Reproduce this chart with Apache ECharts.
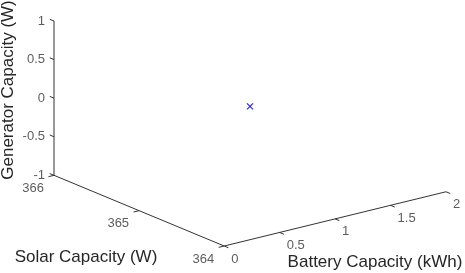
<!DOCTYPE html>
<html>
<head>
<meta charset="utf-8">
<script src="https://cdn.jsdelivr.net/npm/echarts@6/dist/echarts.min.js"></script>
<style>
html, body { margin: 0; padding: 0; background: #fff; }
#main { width: 465px; height: 273px; }
</style>
</head>
<body>
<div id="main"></div>
<script>
// 坐标轴刻度
var batteryTicks = [0, 0.5, 1, 1.5, 2];
var solarTicks = [364, 365, 366];
var generatorTicks = [-1, -0.5, 0, 0.5, 1];
// 数据点
var batteryValues = [1];
var solarValues = [365];
var generatorValues = [0];

var bRange = [0, 2], sRange = [364, 366], gRange = [-1, 1];
// matlab 默认视角 view(-37.5, 30)
var az = -37.5 * Math.PI / 180, el = 30 * Math.PI / 180;
var tickLen = 0.025;
var font = 'Liberation Sans, Arial, sans-serif';
var axisColor = '#333';

function projN(u, v, w) {
    return [
        u * Math.cos(az) + v * Math.sin(az),
        -Math.sin(el) * (Math.sin(az) * u - Math.cos(az) * v) + Math.cos(el) * w
    ];
}
function norm(b, s, g) {
    return [
        (b - bRange[0]) / (bRange[1] - bRange[0]),
        (s - sRange[0]) / (sRange[1] - sRange[0]),
        (g - gRange[0]) / (gRange[1] - gRange[0])
    ];
}
function proj(b, s, g) {
    var n = norm(b, s, g);
    return projN(n[0], n[1], n[2]);
}

// 三根坐标轴
var axisLines = [
    [proj(bRange[0], sRange[0], gRange[0]), proj(bRange[1], sRange[0], gRange[0])],
    [proj(bRange[0], sRange[0], gRange[0]), proj(bRange[0], sRange[1], gRange[0])],
    [proj(bRange[0], sRange[1], gRange[0]), proj(bRange[0], sRange[1], gRange[1])]
];
var hs = [], ps = [];
axisLines.forEach(function(l) {
    l.forEach(function(p) { hs.push(p[0]); ps.push(p[1]); });
});
var hMin = Math.min.apply(null, hs), hMax = Math.max.apply(null, hs);
var pMin = Math.min.apply(null, ps), pMax = Math.max.apply(null, ps);

// 刻度线
var tickSegs = [];
var batteryLabels = [], solarLabels = [], generatorLabels = [];
batteryTicks.forEach(function(b) {
    var n = norm(b, sRange[0], gRange[0]);
    var a = projN(n[0], n[1], n[2]), c = projN(n[0], n[1] - tickLen, n[2]);
    tickSegs.push([a[0], a[1], c[0], c[1]]);
    batteryLabels.push({ value: a, label: { formatter: String(b) } });
});
solarTicks.forEach(function(s) {
    var n = norm(bRange[0], s, gRange[0]);
    var a = projN(n[0], n[1], n[2]), c = projN(n[0] - tickLen, n[1], n[2]);
    tickSegs.push([a[0], a[1], c[0], c[1]]);
    solarLabels.push({ value: a, label: { formatter: String(s) } });
});
generatorTicks.forEach(function(g) {
    var n = norm(bRange[0], sRange[1], g);
    var a = projN(n[0], n[1], n[2]), c = projN(n[0], n[1] + tickLen, n[2]);
    tickSegs.push([a[0], a[1], c[0], c[1]]);
    generatorLabels.push({ value: a, label: { formatter: String(g) } });
});

var points = [];
for (var i = 0; i < batteryValues.length; i++) {
    points.push(proj(batteryValues[i], solarValues[i], generatorValues[i]));
}

function labelSeries(data, pos, align) {
    return {
        type: 'scatter',
        data: data,
        symbolSize: 0,
        silent: true,
        label: {
            show: true,
            position: pos,
            align: align,
            verticalAlign: 'middle',
            fontFamily: font,
            fontSize: 13,
            color: '#333'
        }
    };
}

var chart = echarts.init(document.getElementById('main'));
var series = [];
axisLines.forEach(function(l) {
    series.push({
        type: 'line',
        data: l,
        symbol: 'none',
        silent: true,
        lineStyle: { color: axisColor, width: 1 }
    });
});
series.push({
    type: 'custom',
    data: tickSegs,
    silent: true,
    renderItem: function(params, api) {
        var p1 = api.coord([api.value(0), api.value(1)]);
        var p2 = api.coord([api.value(2), api.value(3)]);
        return {
            type: 'line',
            shape: { x1: p1[0], y1: p1[1], x2: p2[0], y2: p2[1] },
            style: { stroke: axisColor, lineWidth: 1 }
        };
    }
});
series.push(labelSeries(batteryLabels, [7, 13], 'left'));
series.push(labelSeries(solarLabels, [-10, 13], 'right'));
series.push(labelSeries(generatorLabels, [-9, 0], 'right'));
series.push({
    type: 'custom',
    data: points,
    renderItem: function(params, api) {
        var c = api.coord([api.value(0), api.value(1)]);
        var r = 3;
        return {
            type: 'group',
            children: [
                { type: 'line', shape: { x1: c[0] - r, y1: c[1] - r, x2: c[0] + r, y2: c[1] + r }, style: { stroke: '#2a2ae0', lineWidth: 1.2 } },
                { type: 'line', shape: { x1: c[0] - r, y1: c[1] + r, x2: c[0] + r, y2: c[1] - r }, style: { stroke: '#2a2ae0', lineWidth: 1.2 } }
            ]
        };
    }
});

chart.setOption({
    animation: false,
    backgroundColor: '#fff',
    grid: { left: 54, right: 19, top: 21, bottom: 27 },
    xAxis: { type: 'value', min: hMin, max: hMax, show: false },
    yAxis: { type: 'value', min: pMin, max: pMax, show: false },
    graphic: [
        {
            type: 'text', x: 8, y: 90, rotation: Math.PI / 2,
            style: { text: 'Generator Capacity (W)', fontFamily: font, fontSize: 17, fill: '#262626', align: 'center', verticalAlign: 'middle' }
        },
        {
            type: 'text', x: 86, y: 257,
            style: { text: 'Solar Capacity (W)', fontFamily: font, fontSize: 17, fill: '#262626', align: 'center', verticalAlign: 'middle' }
        },
        {
            type: 'text', x: 375, y: 262,
            style: { text: 'Battery Capacity (kWh)', fontFamily: font, fontSize: 17, fill: '#262626', align: 'center', verticalAlign: 'middle' }
        }
    ],
    series: series
});
</script>
</body>
</html>
